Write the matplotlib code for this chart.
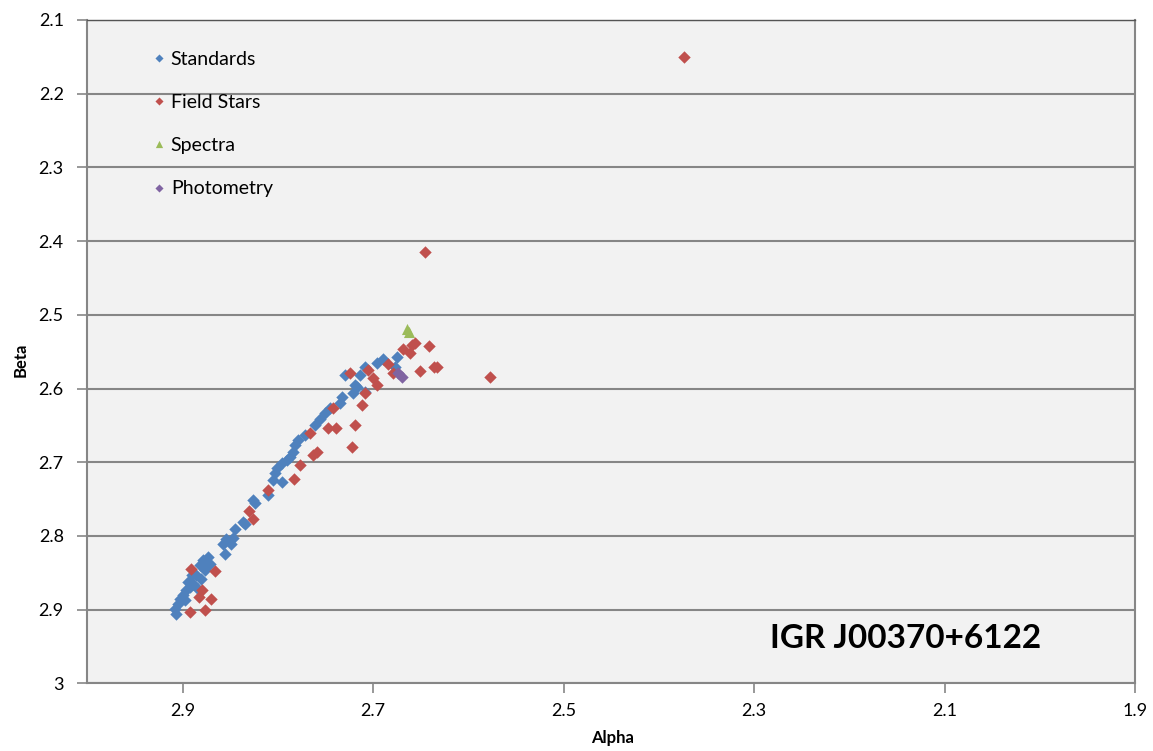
import matplotlib.pyplot as plt

# Alpha / Beta photometric indices
std_alpha = [2.9084, 2.9066, 2.9049, 2.9032, 2.8997, 2.8961, 2.8926, 2.8892, 2.8803, 2.8768,
             2.8821, 2.8786, 2.8734, 2.8716, 2.8558, 2.8487, 2.8540, 2.8471, 2.8453, 2.8365,
             2.8260, 2.8242, 2.8102, 2.8050, 2.8032, 2.8014, 2.7961, 2.7961, 2.7908, 2.7874,
             2.7839, 2.7821, 2.7786, 2.7716, 2.7611, 2.7558, 2.7505, 2.7453, 2.7347, 2.7330,
             2.7295, 2.7207, 2.7172, 2.7137, 2.7084, 2.6961, 2.6892, 2.6751, 2.6768, 2.7189,
             2.7084, 2.8576, 2.8347, 2.8853, 2.8979, 2.8905, 2.8750, 2.8856, 2.8944]
std_beta = [2.8986, 2.9053, 2.8918, 2.8850, 2.8805, 2.8737, 2.8692, 2.8646, 2.8578, 2.8466,
            2.8398, 2.8330, 2.8285, 2.8375, 2.8239, 2.8103, 2.8036, 2.8022, 2.7900, 2.7810,
            2.7516, 2.7560, 2.7448, 2.7235, 2.7153, 2.7085, 2.7017, 2.7267, 2.6973, 2.6928,
            2.6860, 2.6769, 2.6701, 2.6633, 2.6497, 2.6407, 2.6339, 2.6271, 2.6203, 2.6113,
            2.5819, 2.6067, 2.5978, 2.5819, 2.5706, 2.5660, 2.5606, 2.5579, 2.5706, 2.5954,
            2.6045, 2.8103, 2.7832, 2.8701, 2.8873, 2.8534, 2.8398, 2.8534, 2.8624]

field_alpha = [2.3737, 2.6453, 2.5768, 2.6418, 2.6558, 2.6593, 2.6681, 2.6611, 2.6505, 2.6365,
               2.6329, 2.6839, 2.6786, 2.7049, 2.6997, 2.6961, 2.7084, 2.7242, 2.7119, 2.7418,
               2.7470, 2.7389, 2.7189, 2.7663, 2.7224, 2.7593, 2.7628, 2.7768, 2.7832, 2.8102,
               2.8302, 2.8260, 2.8908, 2.8663, 2.8793, 2.8828, 2.8698, 2.8768, 2.8926]
field_beta = [2.1502, 2.4145, 2.5842, 2.5425, 2.5389, 2.5412, 2.5470, 2.5524, 2.5760, 2.5714,
              2.5706, 2.5670, 2.5796, 2.5751, 2.5864, 2.5955, 2.6059, 2.5796, 2.6226, 2.6271,
              2.6542, 2.6542, 2.6497, 2.6610, 2.6792, 2.6860, 2.6905, 2.7040, 2.7221, 2.7380,
              2.7661, 2.7764, 2.8443, 2.8475, 2.8728, 2.8828, 2.8850, 2.8999, 2.9032]

spec_alpha = [2.6642, 2.6620]
spec_beta = [2.5194, 2.5235]

phot_alpha = [2.6735, 2.6695]
phot_beta = [2.5792, 2.5846]

alpha_ticks = [2.9, 2.7, 2.5, 2.3, 2.1, 1.9]
beta_ticks = [2.1, 2.2, 2.3, 2.4, 2.5, 2.6, 2.7, 2.8, 2.9, 3.0]

plt.rcParams['font.family'] = ['Lato', 'DejaVu Sans']

fig = plt.figure(figsize=(11.53, 7.51), dpi=100)
ax = fig.add_axes([0.0758, 0.0901, 0.9086, 0.8833])
ax.set_facecolor('#f2f2f2')

ax.scatter(std_alpha, std_beta, marker='D', s=40, color='#4f81bd', label='Standards', zorder=3, linewidths=0)
ax.scatter(field_alpha, field_beta, marker='D', s=40, color='#c0504d', label='Field Stars', zorder=3, linewidths=0)
ax.scatter(spec_alpha, spec_beta, marker='^', s=64, color='#9bbb59', label='Spectra', zorder=4, linewidths=0)
ax.scatter(phot_alpha, phot_beta, marker='D', s=40, color='#8064a2', label='Photometry', zorder=4, linewidths=0)

ax.set_xlim(3.0, 1.9)
ax.set_ylim(3.0, 2.1)
ax.set_xticks(alpha_ticks)
ax.set_xticklabels([f'{v:.1f}' for v in alpha_ticks])
ax.set_yticks(beta_ticks)
ax.set_yticklabels(['3' if v == 3.0 else f'{v:.1f}' for v in beta_ticks])
ax.tick_params(axis='both', labelsize=13, colors='#868686', labelcolor='black', length=7, width=1.2)
ax.tick_params(axis='x', pad=7)
ax.tick_params(axis='y', pad=10)

ax.yaxis.grid(True, color='#868686', linewidth=1.5)
ax.set_axisbelow(True)
for side in ['left', 'bottom', 'right']:
    ax.spines[side].set_color('#868686')
    ax.spines[side].set_linewidth(1.5)
ax.spines['top'].set_color('#555555')
ax.spines['top'].set_linewidth(1.0)

ax.set_xlabel('Alpha', fontsize=12, fontweight='bold')
ax.set_ylabel('Beta', fontsize=12, fontweight='bold')
ax.xaxis.set_label_coords(0.5008, -0.071)
ax.yaxis.set_label_coords(-0.0565, 0.487)

ax.legend(loc='upper left', bbox_to_anchor=(0.0406, 0.98), frameon=False, fontsize=14,
          labelspacing=1.35, handlelength=1.2, handletextpad=0.0, markerscale=0.65,
          scatteryoffsets=[0.5])

ax.text(0.781, 0.068, 'IGR J00370+6122', transform=ax.transAxes, fontsize=24,
        fontweight='bold', ha='center', va='center')

fig.savefig('out.png', dpi=100)
